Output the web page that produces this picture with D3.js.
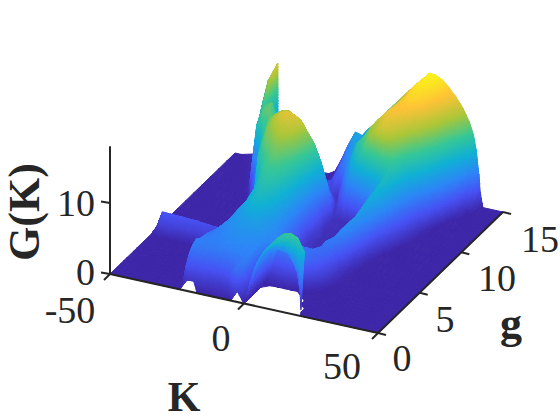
<!DOCTYPE html>
<html><head><meta charset="utf-8">
<style>html,body{margin:0;padding:0;background:#fff}svg{display:block}text{fill:#262626}</style>
<script src="https://cdn.jsdelivr.net/npm/d3@7"></script></head><body>
<svg id="c" width="560" height="420"></svg>
<script>
const N=null;
const kTicks=[-50,0,50], gTicks=[0,5,10,15], zTicks=[0,10];
const kTickLabels=["-50","0","50"], gTickLabels=["0","5","10","15"], zTickLabels=["0","10"];
const xLabel="K", yLabel="g", zLabel="G(K)";
const gridK=[-50,-47.5,-42.5,-40,-37.5,-35,-34,-33.9, -32.5,-30,-27.5,-25,-24,-22.5,-20,-17.5,-15,-12.5, -10,-7.5,-5,-2.5,0,2.5,5,7.5,10,12.5, 15,17.5,20,21,22.5,25,27.5,30,32.5,35, 37.5,39,40,41,41.5,42.5,50];
const gridG=[0,.4,.8,1.2,1.6,2,2.4,2.8,3.2,3.5,4,4.7,5,5.5,6,7,8,9,10,11,12,13,14,15];
const gridZ=[
[0,0,0,0,0,0,0,0, 0,0,0,0,0,N,N,0,0,0, 0,0,0,1.5,0,N,N,N,N,N, N,N,N,0,0,0,0,0,0,0, 0,0,0,0,0,0,0],
[0,0,0,0,0,0,0,0, 0,0,0,0,.3,1,1,1,1,1, 1,1.2,3.8,3,0,N,N,N,N,N, N,N,0,0,0,0,0,0,0,0, 0,0,0,0,0,0,0],
[0,0,0,0,0,0,0,0, 0,0,0,0,2.5,2.6,2.5,2.5,2.4,2.4, 2.5,2.9,4.2,4.4,0,N,N,N,N,N, N,N,0,0,0,0,0,0,0,0, 0,0,0,0,0,0,0],
[0,0,0,0,0,0,0,0, 0,0,0,0,3.8,3.9,3.8,3.7,3.6,3.7, 3.8,4,4.4,4.6,0,N,N,N,N,N, N,0,0,0,0,0,0,0,0,0, 0,0,0,0,0,0,0],
[0,0,0,0,0,0,0,0, 0,0,0,0,4.5,4.5,4.4,4.4,4.4,4.5, 4.6,4.7,4.8,4.8,0,N,N,N,N,N, N,0,0,0,0,0,0,0,0,0, 0,0,0,0,0,0,0],
[0,0,0,0,0,0,0,0, 0,0,0,0,4.8,4.8,4.7,4.7,4.7,4.8, 5,5,5,5,0,N,N,N,N,N, 0,0,0,0,0,0,0,0,0,0, 0,0,0,0,0,0,0],
[0,0,0,0,0,0,0,0, 0,0,0,0,4.4,4.6,4.6,4.8,5,5.2, 5.3,5.3,5.2,5.1,0,0,0,0,0,0, 0,0,0,0,0,0,0,0,0,0, 0,0,0,0,0,0,0],
[0,0,0,0,0,0,0,0, 0,0,0,0,4.3,4.5,4.7,4.9,5.2,5.4, 5.6,5.5,5.4,5.3,1.5,1.5,2,2.2,2.2,2, 1.2,.3,0,0,0,0,0,0,0,0, 0,0,0,0,0,0,0],
[0,0,0,0,0,0,0,0, 0,0,0,0,4.2,4.4,4.7,5,5.4,5.7, 5.9,5.8,5.6,5.4,4.8,3.8,4,4.2,4.2,4, 2.8,1.5,.3,0,0,0,0,0,0,0, 0,0,0,0,0,0,0],
[0,0,0,0,0,0,0,0, 0,0,0,0,4,4.3,4.8,5.2,5.6,6, 6.1,6,5.8,5.5,5,4.5,4.4,4.2,4.1,3.8, 3.2,2,.7,.3,0,0,0,0,0,0, 0,0,0,0,0,0,0],
[0,0,0,0,0,0,0,0, 0,0,0,0,3.7,4,5,5.6,5.9,6.3, 6.5,6.5,6.1,5.7,5.2,5,4.6,4.3,4.2,4, 3.5,2.7,1.3,.7,0,0,0,0,0,0, 0,0,0,0,0,0,0],
[0,0,0,0,0,0,0,0, 0,0,0,0,3.3,3.6,4.9,5.8,6.6,7.4, 7.6,7.2,6.5,5.6,4.5,3.6,3,2.8,2.9,3.2, 4,3.8,1.8,.9,.2,0,0,0,0,0, 0,0,0,0,0,0,0],
[0,1.5,1.7,1.7,1.7,1.7,1.7,1.7, 1.7,1.6,1.6,1.6,2.5,3,4.5,6.2,7,8, 8.1,7.6,6.8,5.6,4.2,3,2,1.6,1.8,3, 4.3,4.2,2.2,1.2,.3,0,0,0,0,0, 0,0,0,0,0,0,0],
[0,2.7,2.6,2.6,2.5,2.5,2.5,2.4, 2.4,2.3,2.2,2.2,2.3,2.8,3.5,6.2,7.4,8.4, 8.5,8,7,5.6,4,2.6,1.3,1,1.1,1.8, 3.7,4.7,3.6,2.4,.6,0,0,0,0,0, 0,0,0,0,0,0,0],
[0,0,0,0,0,0,0,0, 0,0,0,0,0,0,1,6.3,7.9,8.9, 9,8.4,7.2,5.6,3.8,1.5,.8,.6,.7,1.2, 2.6,5,4.8,3.5,1.2,0,0,0,0,0, 0,0,0,0,0,0,0],
[0,0,0,0,0,0,0,0, 0,0,0,0,0,0,.3,7,9.5,10.2, 10,9.2,7.8,5.8,3.5,1,.5,.4,.6,.9, 1.8,3.5,6,5.4,3.8,.3,0,0,0,0, 0,0,0,0,0,0,0],
[0,0,0,0,0,0,0,0, 0,0,0,0,0,.3,8,10,11,11.5, 11,10,8.4,6,3.5,1.5,.5,.4,.6,1, 2.4,4,6.5,7,6.2,2.2,0,0,0,0, 0,0,0,0,0,0,0],
[0,0,0,0,0,0,0,0, 0,0,0,.3,3,9,11.2,12,12.9,13, 12.4,11.2,9.4,6.8,3.6,.7,.5,.5,.8,1.4, 3.2,5,7,7.5,8,5.5,2,0,0,0, 0,0,0,0,0,0,0],
[0,0,0,0,0,0,0,0, 0,0,3,8.3,9.5,11.6,12.8,14,14.4,14.2, 13.7,12.2,10.8,8.4,5,.7,.6,.6,.9,2.5, 4,5.5,7.5,8.2,9,7.5,4.2,1.3,0,0, 0,0,0,0,0,0,0],
[0,0,0,0,0,0,0,0, .3,4,9,11,11.7,12.3,13,13.2,12.6,11.8, 10.2,8.4,6,3.2,1,3,6,8,10,12, 13,14,13.5,13,12,9.5,6.8,3.6,.3,0, 0,0,0,0,0,0,0],
[0,0,0,0,0,.3,1,1.5, 8.8,11,11,10.5,10,9.5,9,7.5,6,5, 4,2.8,1.5,.5,4,7,9.4,10.5,12,13.2, 14.3,15,15,14.7,14.3,13,11.2,8.8,5,0, 0,0,0,0,0,0,0],
[0,0,0,0,.3,8,9,9.5, 10.5,11,8.5,8,8,7,4.5,2,.8,.3, 1,2,3.5,4.8,6,7.2,8.5,9.8,11,12.2, 13.5,15,15.8,15.9,16,15.5,14.3,12.4,9.5,5.5, 0,0,0,0,0,0,0],
[0,0,0,.5,7,11.5,12.8,0, 0,0,0,0,0,0,0,0,0,0, 1,3,5,6.5,7,7.9,8.8,9.8,10.8,12.2, 13.5,15,16.4,16.7,16.9,16.5,15.8,14.6,12.8,10.5, 6.5,1.5,0,0,0,0,0],
[0,0,.5,7.3,11.3,13.2,14,0, 0,0,0,0,0,0,0,0,0,.6, 2.6,4.8,6.7,6.4,7.6,8.6,9.7,10.9,12,13.1, 14.2,15.2,16.2,16.6,17.3,17.2,16.7,15.8,14.7,13.4, 11.6,9.9,7.9,4.5,2,0,0]
];
const archK=[0,2.5,5,7.5,10,12.5,15,17.5,20];
const archG=[0,.4,.8,1.2,1.6,2,2.4,2.7];
const archZ=[
[0,N,N,N,N,N,N,N,N],
[0,4.5,N,N,N,N,N,N,.3],
[0,5.1,6.9,8,9.1,9.9,10.2,9.8,8],
[0,5.4,6.8,7.6,8.2,8.4,7.5,1.3,N],
[0,5.5,6.6,7.2,7.2,6.2,3.7,N,N],
[0,5.4,6.2,6.5,5.8,4.3,N,N,N],
[0,4.8,5.4,5.2,N,N,N,N,N],
[0,3.3,N,N,N,N,N,N,N]
];
const parulaStops=["#3e26a8","#4852f4","#2d87f7","#11b1d6","#37c897","#abc739","#fec338","#f9fb15"];

const colorScale=d3.scaleLinear().domain(parulaStops.map((_,i)=>i/7*17.7)).range(parulaStops).interpolate(d3.interpolateRgb).clamp(true);
const kx=d3.scaleLinear().domain([-50,50]).range([0,268]), ky=d3.scaleLinear().domain([-50,50]).range([0,59]);
const gx=d3.scaleLinear().domain([0,15]).range([0,125]), gy=d3.scaleLinear().domain([0,15]).range([0,-121]);
const zy=d3.scaleLinear().domain([0,18]).range([0,-127.8]);
const px=(k,g)=>110+kx(k)+gx(g), py=(k,g,z)=>274+ky(k)+gy(g)+zy(z);

function split(t,depth,out){
  const dz=[Math.abs(t[0][2]-t[1][2]),Math.abs(t[1][2]-t[2][2]),Math.abs(t[2][2]-t[0][2])];
  const m=Math.max(...dz);
  if(m<0.15||depth>8){
    const z=(t[0][2]+t[1][2]+t[2][2])/3;
    out.push({p:t.map(q=>[px(q[0],q[1]),py(q[0],q[1],q[2])]),c:colorScale(z)});
    return;
  }
  const e=dz.indexOf(m), a=t[e], b=t[(e+1)%3], c=t[(e+2)%3];
  const mid=[(a[0]+b[0])/2,(a[1]+b[1])/2,(a[2]+b[2])/2];
  split([a,mid,c],depth+1,out); split([mid,b,c],depth+1,out);
}
function facets(Ks,Gs,Zs,out){
  for(let j=Gs.length-2;j>=0;j--) for(let i=0;i<Ks.length-1;i++){
    const v=(ii,jj)=>Zs[jj][ii]==null?null:[Ks[ii],Gs[jj],Zs[jj][ii]];
    const a=v(i,j),b=v(i+1,j),c=v(i+1,j+1),d=v(i,j+1);
    const n=[a,b,c,d].filter(q=>q).length;
    if(n<3) continue;
    if(n===3){ split([a,b,c,d].filter(q=>q),0,out); continue; }
    if(Math.abs(a[2]-c[2])<=Math.abs(b[2]-d[2])){ split([a,c,d],0,out); split([a,b,c],0,out); }
    else { split([a,b,d],0,out); split([b,c,d],0,out); }
  }
  return out;
}
const svg=d3.select("#c");
const fs=[]; facets(gridK,gridG,gridZ,fs); facets(archK,archG,archZ,fs);
const path=f=>{const q=d3.path();q.moveTo(...f.p[0]);q.lineTo(...f.p[1]);q.lineTo(...f.p[2]);q.closePath();return q.toString();};
svg.append("g").attr("stroke-linejoin","round").selectAll("path").data(fs).join("path").attr("d",path).attr("fill",d=>d.c).attr("stroke",d=>d.c).attr("stroke-width",1);

const ax=svg.append("g").attr("stroke","#262626").attr("stroke-width",2).attr("stroke-linecap","butt");
const ln=(x1,y1,x2,y2)=>ax.append("line").attr("x1",x1).attr("y1",y1).attr("x2",x2).attr("y2",y2);
ln(px(-50,0),py(-50,0,0),px(50,0),py(50,0,0));
ln(px(50,0),py(50,0,0),px(50,15),py(50,15,0));
ln(px(-50,0),py(-50,0,0),px(-50,0),py(-50,0,18));
kTicks.forEach(k=>ln(px(k,0),py(k,0,0),px(k,0)-6,py(k,0,0)+6));
gTicks.forEach(g=>ln(px(50,g),py(50,g,0),px(50,g)+8,py(50,g,0)+2));
zTicks.forEach(z=>ln(px(-50,0),py(-50,0,z),px(-50,0)-9,py(-50,0,z)-1.5));

const serif="'Liberation Serif',serif";
const T=(s,x,y,a,fsz,w,rot)=>{const t=svg.append("text").text(s).attr("x",x).attr("y",y).attr("text-anchor",a).attr("font-family",serif).attr("font-size",fsz).attr("font-weight",w||400);if(rot)t.attr("transform",`rotate(${rot} ${x} ${y})`);return t;};
const kPos=[[70,323],[221,351],[342,379]];
kTickLabels.forEach((s,i)=>T(s,kPos[i][0],kPos[i][1],"middle",38));
const gPos=[[402,371],[445,332],[497,291],[540,252]];
gTickLabels.forEach((s,i)=>T(s,gPos[i][0],gPos[i][1],"middle",38));
const zPos=[[95,285],[95,216]];
zTickLabels.forEach((s,i)=>T(s,zPos[i][0],zPos[i][1],"end",38));
T(xLabel,184,411,"middle",42,700);
T(yLabel,511,338,"middle",44,700);
T(zLabel,39,212,"middle",44,700,-90);
</script></body></html>
